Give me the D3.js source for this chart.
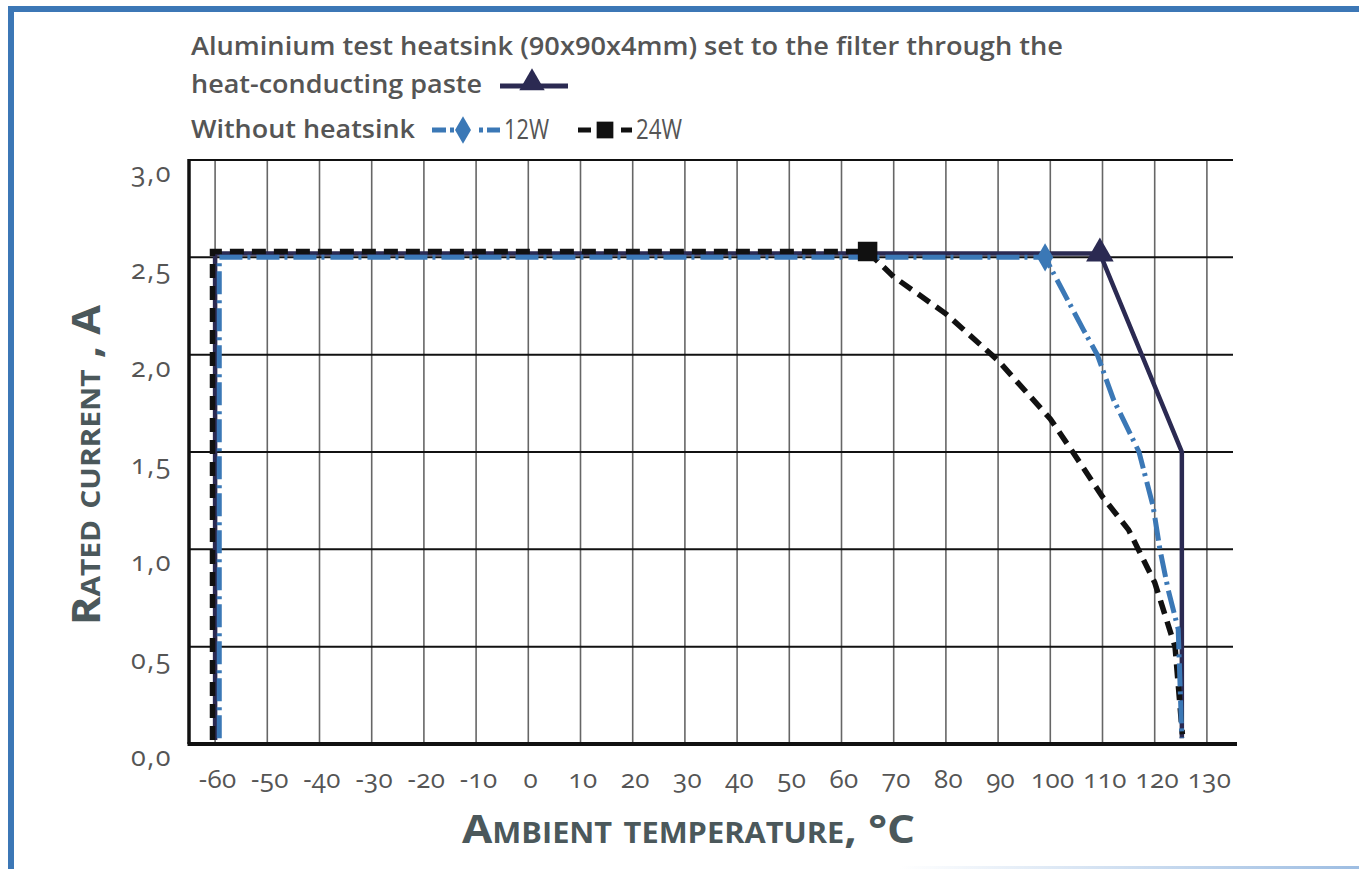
<!DOCTYPE html>
<html>
<head>
<meta charset="utf-8">
<script src="https://cdn.jsdelivr.net/npm/d3@7"></script>
<style>
  body { margin: 0; background: #fff; }
  svg { display: block; }
  .axis text {
    font-family: "Open Sans", "Noto Sans", sans-serif;
    font-variant-numeric: oldstyle-nums;
    font-feature-settings: "onum" 1;
    fill: #555;
  }
  .legend text { font-family: "Open Sans", sans-serif; fill: #555; }
  .title { font-family: "Open Sans", sans-serif; font-weight: 700; fill: #4b585b; font-variant: small-caps; }
</style>
</head>
<body>
<svg id="chart" width="1359" height="869"></svg>
<script>
// Tick values
const xTicks = [-60, -50, -40, -30, -20, -10, 0, 10, 20, 30, 40, 50, 60, 70, 80, 90, 100, 110, 120, 130];
const yTicks = [0, 0.5, 1.0, 1.5, 2.0, 2.5, 3.0];

// Aluminium heatsink (90x90x4mm) with heat-conducting paste
const heatsinkTemp    = [-60, -60, 109.5, 125.2, 125.2];
const heatsinkCurrent = [0.02, 2.52, 2.52, 1.5, 0.03];

// Without heatsink, 12W
const w12Temp    = [-59.2, -59.2, 99, 106.3, 109, 112.1, 117, 119.7, 121, 122.6, 124.5, 125.2];
const w12Current = [0.03, 2.5, 2.5, 2.13, 2.0, 1.77, 1.5, 1.22, 1.0, 0.79, 0.59, 0.03];

// Without heatsink, 24W
const w24Temp    = [-60.5, -60.5, 65, 70, 80, 90, 100, 104.3, 110, 115, 120, 123.9, 125.3];
const w24Current = [0.02, 2.53, 2.53, 2.4, 2.21, 1.97, 1.67, 1.5, 1.27, 1.1, 0.83, 0.5, 0.05];

// index of the point that carries the series marker
const markerIndex = 2;

const svg = d3.select("#chart");
const x = d3.scaleLinear().domain([-65, 135]).range([189, 1233]);
const y = d3.scaleLinear().domain([0, 3]).range([744, 160]);

const NAVY = "#2b2a52", BLUE = "#3b78b6", BLACK = "#111";

// page frame
svg.append("rect").attr("x", 8).attr("y", 6).attr("width", 1351).attr("height", 6).attr("fill", "#3c77b6");
svg.append("rect").attr("x", 8).attr("y", 6).attr("width", 6).attr("height", 863).attr("fill", "#3c77b6");
const grad = svg.append("defs").append("linearGradient").attr("id", "fade");
grad.append("stop").attr("offset", "0").attr("stop-color", "#fff");
grad.append("stop").attr("offset", "1").attr("stop-color", "#9dbde2");
svg.append("rect").attr("x", 900).attr("y", 866).attr("width", 459).attr("height", 3).attr("fill", "url(#fade)");

// grid
const grid = svg.append("g");
grid.selectAll("line.v").data(xTicks).join("line")
  .attr("x1", d => x(d)).attr("x2", d => x(d))
  .attr("y1", y(3)).attr("y2", y(0))
  .attr("stroke", "#666").attr("stroke-width", 1.6);
grid.selectAll("line.h").data(yTicks.filter(d => d > 0)).join("line")
  .attr("x1", x(-65)).attr("x2", x(135))
  .attr("y1", d => y(d)).attr("y2", d => y(d))
  .attr("stroke", "#111").attr("stroke-width", 2);
// axis lines
svg.append("line").attr("x1", x(-65)).attr("x2", x(-65)).attr("y1", y(3) - 1).attr("y2", y(0))
  .attr("stroke", "#111").attr("stroke-width", 3.5);
svg.append("line").attr("x1", x(-65) - 1.5).attr("x2", x(135) + 4).attr("y1", y(0)).attr("y2", y(0))
  .attr("stroke", "#111").attr("stroke-width", 4);

const fmt = d => d3.format(".1f")(d).replace(".", ",");

// y axis labels
const yAxis = svg.append("g").attr("class", "axis")
  .attr("transform", `translate(${x(-65)},13)`)
  .call(d3.axisLeft(y).tickValues(yTicks).tickSize(0).tickPadding(17).tickFormat(fmt));
yAxis.select(".domain").remove();
yAxis.selectAll("text").attr("font-size", 27).attr("letter-spacing", 1.5);

// x axis labels
const xAxis = svg.append("g").attr("class", "axis")
  .attr("transform", `translate(2,${y(0)})`)
  .call(d3.axisBottom(x).tickValues(xTicks).tickSize(0).tickPadding(26).tickFormat(d3.format("d")));
xAxis.select(".domain").remove();
xAxis.selectAll("text").attr("font-size", 26).attr("letter-spacing", 0.3)
  .text(d => String(d));

// series
const line = d3.line().x(d => x(d[0])).y(d => y(d[1]));
const zip = (a, b) => a.map((v, i) => [v, b[i]]);
const heatsink = zip(heatsinkTemp, heatsinkCurrent);
const w12 = zip(w12Temp, w12Current);
const w24 = zip(w24Temp, w24Current);

svg.append("path").datum(heatsink).attr("d", line)
  .attr("fill", "none").attr("stroke", NAVY).attr("stroke-width", 4.5).attr("stroke-linejoin", "miter");
svg.append("path").datum(w24).attr("d", line)
  .attr("fill", "none").attr("stroke", BLACK).attr("stroke-width", 5.5).attr("stroke-dasharray", "14,8");
svg.append("path").datum(w12).attr("d", line)
  .attr("fill", "none").attr("stroke", BLUE).attr("stroke-width", 5).attr("stroke-dasharray", "23,5,3,6");

// markers
const sym = (type, size) => d3.symbol().type(type).size(size)();
svg.append("path").attr("d", sym(d3.symbolSquare, 380))
  .attr("transform", `translate(${x(w24[markerIndex][0])},${y(w24[markerIndex][1])})`).attr("fill", BLACK);
svg.append("path").attr("d", sym(d3.symbolDiamond, 230))
  .attr("transform", `translate(${x(w12[markerIndex][0])},${y(w12[markerIndex][1])})`).attr("fill", BLUE);
svg.append("path").attr("d", sym(d3.symbolTriangle, 330))
  .attr("transform", `translate(${x(heatsink[markerIndex][0])},${y(heatsink[markerIndex][1])})`).attr("fill", NAVY);

// legend
const lg = svg.append("g").attr("class", "legend");
lg.append("text").attr("x", 191).attr("y", 55).attr("font-size", 26).attr("font-weight", 600)
  .attr("textLength", 872).attr("lengthAdjust", "spacingAndGlyphs")
  .text("Aluminium test heatsink (90x90x4mm) set to the filter through the");
lg.append("text").attr("x", 191).attr("y", 93).attr("font-size", 26).attr("font-weight", 600)
  .attr("textLength", 291).attr("lengthAdjust", "spacingAndGlyphs")
  .text("heat-conducting paste");
lg.append("line").attr("x1", 500).attr("x2", 568).attr("y1", 86).attr("y2", 86)
  .attr("stroke", NAVY).attr("stroke-width", 5);
lg.append("path").attr("d", sym(d3.symbolTriangle, 280)).attr("transform", "translate(532,83)").attr("fill", NAVY);

lg.append("text").attr("x", 191).attr("y", 138).attr("font-size", 26).attr("font-weight", 600)
  .attr("textLength", 224).attr("lengthAdjust", "spacingAndGlyphs")
  .text("Without heatsink");
lg.append("line").attr("x1", 432).attr("x2", 500).attr("y1", 130).attr("y2", 130)
  .attr("stroke", BLUE).attr("stroke-width", 5).attr("stroke-dasharray", "14,4,4,25,4,4,14");
lg.append("path").attr("d", sym(d3.symbolDiamond, 220)).attr("transform", "translate(463,130)").attr("fill", BLUE);
lg.append("text").attr("x", 504).attr("y", 139).attr("font-size", 27).attr("font-weight", 400)
  .attr("textLength", 45).attr("lengthAdjust", "spacingAndGlyphs").text("12W");
lg.append("line").attr("x1", 578).attr("x2", 632).attr("y1", 130).attr("y2", 130)
  .attr("stroke", BLACK).attr("stroke-width", 5).attr("stroke-dasharray", "13,30,13");
lg.append("path").attr("d", sym(d3.symbolSquare, 280)).attr("transform", "translate(605,130)").attr("fill", BLACK);
lg.append("text").attr("x", 636).attr("y", 139).attr("font-size", 27).attr("font-weight", 400)
  .attr("textLength", 46).attr("lengthAdjust", "spacingAndGlyphs").text("24W");

// axis titles
svg.append("text").attr("class", "title").attr("x", 462).attr("y", 843)
  .attr("font-size", 40).attr("textLength", 453).attr("lengthAdjust", "spacingAndGlyphs")
  .text("Ambient temperature, °C");
svg.append("text").attr("class", "title")
  .attr("transform", "translate(100,625) rotate(-90)")
  .attr("font-size", 39).attr("textLength", 320).attr("lengthAdjust", "spacingAndGlyphs")
  .text("Rated current , A");
</script>
</body>
</html>
